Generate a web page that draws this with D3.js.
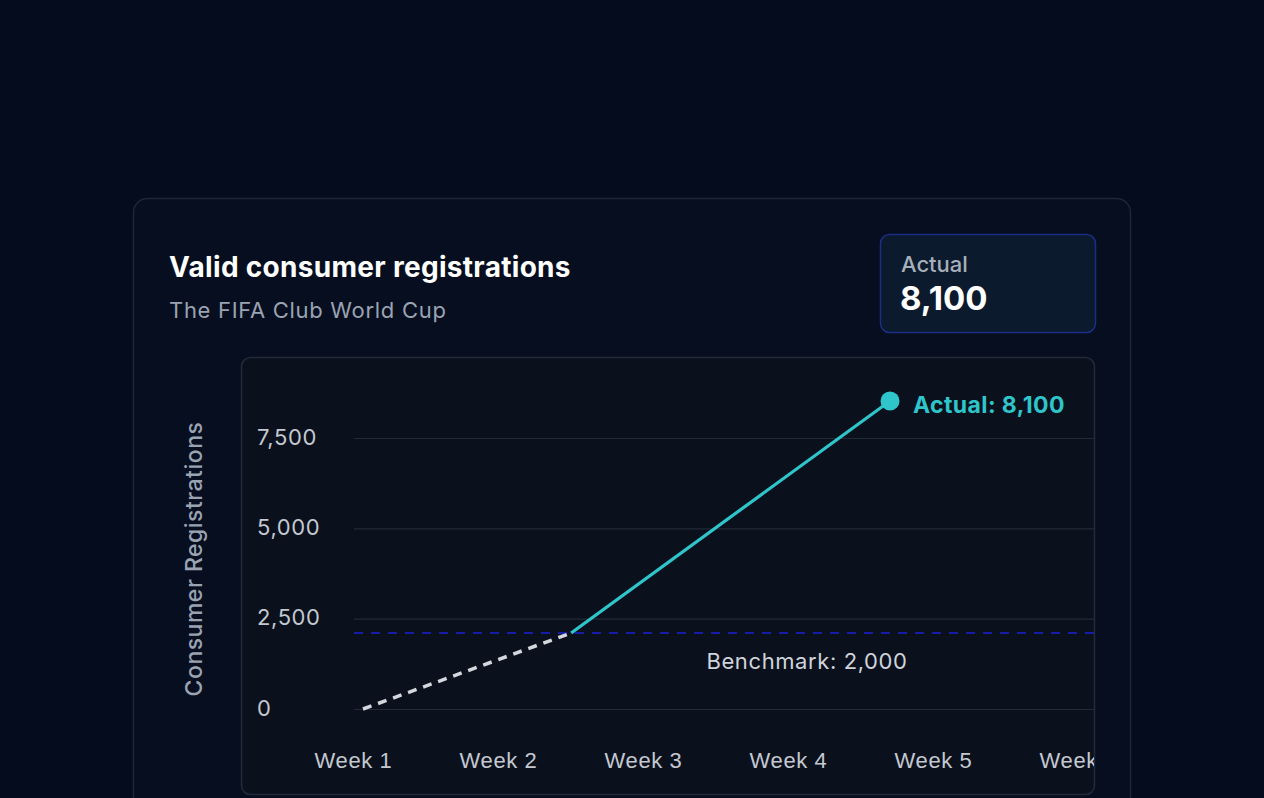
<!DOCTYPE html>
<html>
<head>
<meta charset="utf-8">
<script src="https://d3js.org/d3.v7.min.js"></script>
<style>
  html, body { margin: 0; padding: 0; background: #040c1e; }
  svg { display: block; font-family: Inter, "Noto Sans", sans-serif; }
  .grid line { stroke: #232a37; stroke-width: 1.2; }
  .grid .domain { display: none; }
  .ytick text { fill: #c3c8d1; font-size: 22px; letter-spacing: 0.6px; }
  .xaxis text { fill: #c3c8d1; font-size: 22px; letter-spacing: 0.6px; }
  .xaxis .domain, .xaxis line { display: none; }
</style>
</head>
<body>
<div id="chart"></div>
<script>
// chart data
const weeks = ["Week 1", "Week 2", "Week 3", "Week 4", "Week 5", "Week 6"];
const yTicks = [0, 2500, 5000, 7500];
const belowWeeks = [1, 2.58];        // dashed part, up to benchmark crossing
const belowValues = [0, 2000];
const aboveWeeks = [2.58, 5];        // solid part, after crossing
const aboveValues = [2000, 8100];
const benchmark = 2000;
const actual = 8100;

const W = 1264, H = 798;

const svg = d3.select("#chart")
  .append("svg")
    .attr("width", W)
    .attr("height", H);

svg.append("rect").attr("width", W).attr("height", H).attr("fill", "#040c1e");

// outer card
svg.append("rect")
  .attr("x", 133.5).attr("y", 198.5)
  .attr("width", 997).attr("height", 720)
  .attr("rx", 14)
  .attr("fill", "#060e1f")
  .attr("stroke", "#1e2535")
  .attr("stroke-width", 1.5);

svg.append("text")
  .attr("x", 169).attr("y", 277)
  .attr("fill", "#ffffff")
  .attr("font-size", 28)
  .attr("font-weight", 700)
  .attr("letter-spacing", "0.3px")
  .text("Valid consumer registrations");

svg.append("text")
  .attr("x", 169).attr("y", 318)
  .attr("fill", "#9aa3b2")
  .attr("font-size", 22)
  .attr("letter-spacing", "0.7px")
  .text("The FIFA Club World Cup");

// actual box
svg.append("rect")
  .attr("x", 880.5).attr("y", 234.5)
  .attr("width", 215).attr("height", 98)
  .attr("rx", 9)
  .attr("fill", "#0b1a2c")
  .attr("stroke", "#1a2e85")
  .attr("stroke-width", 1.5);

svg.append("text")
  .attr("x", 901).attr("y", 272)
  .attr("fill", "#a7afbb")
  .attr("font-size", 22)
  .attr("font-weight", 500)
  .text("Actual");

svg.append("text")
  .attr("x", 900).attr("y", 310)
  .attr("fill", "#ffffff")
  .attr("font-size", 33)
  .attr("font-weight", 700)
  .text(d3.format(",")(actual));

// inner plot panel
svg.append("defs").append("clipPath").attr("id", "panelClip")
  .append("rect")
    .attr("x", 242).attr("y", 358)
    .attr("width", 852).attr("height", 436)
    .attr("rx", 8);

svg.append("rect")
  .attr("x", 241.5).attr("y", 357.5)
  .attr("width", 853).attr("height", 437)
  .attr("rx", 9)
  .attr("fill", "#0b111c")
  .attr("stroke", "#232a38")
  .attr("stroke-width", 1.5);

const plot = svg.append("g").attr("clip-path", "url(#panelClip)");

// scales: ticks/grid and data marks are laid out separately, as in the source
const yGrid = d3.scaleLinear().domain([0, 7500]).range([709, 438]);
const yData = d3.scaleLinear().domain([0, actual]).range([709, 401]);
const xLabel = d3.scalePoint().domain(weeks).range([353, 1078]);
const xData = d3.scaleLinear().domain([1, 5]).range([363, 890]);

plot.append("g")
  .attr("class", "grid")
  .attr("transform", "translate(1095,0)")
  .call(d3.axisLeft(yGrid).tickValues(yTicks).tickSize(1095 - 354).tickFormat(""));

svg.append("g")
  .attr("class", "ytick")
  .selectAll("text")
  .data(yTicks)
  .enter().append("text")
    .attr("x", 257)
    .attr("y", function(d) { return yGrid(d); })
    .attr("dy", "0.3em")
    .text(function(d) { return d3.format(",")(d); });

plot.append("g")
  .attr("class", "xaxis")
  .attr("transform", "translate(0,760)")
  .call(d3.axisBottom(xLabel).tickSize(0).tickPadding(0))
  .selectAll("text")
    .attr("dy", "0.36em");

svg.append("text")
  .attr("transform", "translate(202,559) rotate(-90)")
  .attr("text-anchor", "middle")
  .attr("fill", "#9aa3b2")
  .attr("font-size", 23)
  .attr("font-weight", 500)
  .attr("letter-spacing", "0.5px")
  .text("Consumer Registrations");

// benchmark line
plot.append("line")
  .attr("x1", 354).attr("x2", 1095)
  .attr("y1", yData(benchmark)).attr("y2", yData(benchmark))
  .attr("stroke", "#1c22d8")
  .attr("stroke-width", 1.6)
  .attr("stroke-dasharray", "9,8");

svg.append("text")
  .attr("x", 807).attr("y", yData(benchmark) + 36)
  .attr("text-anchor", "middle")
  .attr("fill", "#cfd4dc")
  .attr("font-size", 22)
  .attr("letter-spacing", "0.6px")
  .text("Benchmark: " + d3.format(",")(benchmark));

const line = d3.line()
  .x(function(d) { return xData(d[0]); })
  .y(function(d) { return yData(d[1]); });

plot.append("path")
  .datum(d3.zip(belowWeeks, belowValues))
  .attr("d", line)
  .attr("fill", "none")
  .attr("stroke", "#d4d7dd")
  .attr("stroke-width", 3.5)
  .attr("stroke-dasharray", "9,7");

plot.append("path")
  .datum(d3.zip(aboveWeeks, aboveValues))
  .attr("d", line)
  .attr("fill", "none")
  .attr("stroke", "#2ec5cb")
  .attr("stroke-width", 3.2);

plot.append("circle")
  .attr("cx", xData(aboveWeeks[aboveWeeks.length - 1]))
  .attr("cy", yData(actual))
  .attr("r", 9.5)
  .attr("fill", "#2ec5cb");

plot.append("text")
  .attr("x", xData(aboveWeeks[aboveWeeks.length - 1]) + 23)
  .attr("y", yData(actual) + 4)
  .attr("dy", "0.36em")
  .attr("fill", "#2ec5cb")
  .attr("font-size", 23)
  .attr("font-weight", 700)
  .attr("letter-spacing", "0.4px")
  .text("Actual: " + d3.format(",")(actual));
</script>
</body>
</html>
